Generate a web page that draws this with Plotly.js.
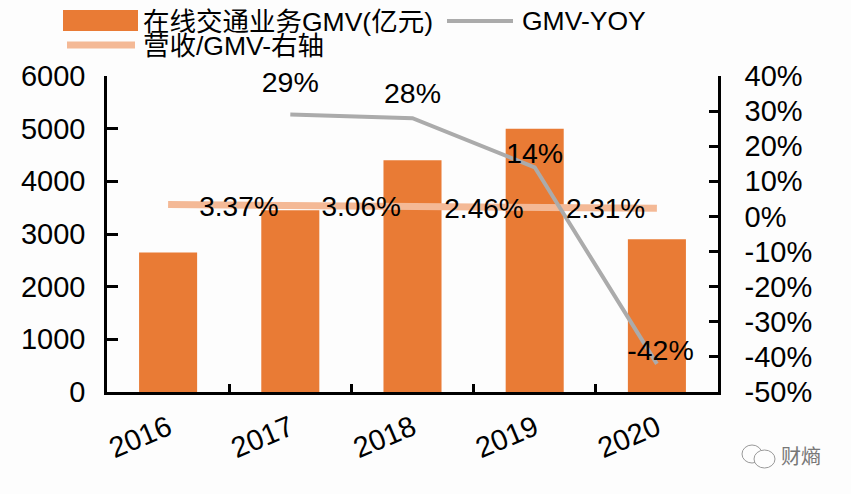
<!DOCTYPE html>
<html><head><meta charset="utf-8">
<script src="https://cdn.plot.ly/plotly-3.0.1.min.js"></script>
<style>html,body{margin:0;padding:0;background:#fdfdfd}</style></head>
<body><div id="c" style="width:851px;height:494px"></div>
<script>
const years = ['2016','2017','2018','2019','2020'];
const gmv = [2650,3450,4400,5000,2900];
const yoyYears = ['2017','2018','2019','2020'];
const yoy = [29,28,14,-42];
const yoyLabels = ['29%','28%','14%','-42%'];
const yoyLabelX = [1,2,3,4.03];
const yoyLabelY = [37.4,34.4,17.2,-38.9];
const takeLine = [3.37,3.06,2.46,2.31,2.31];
const takeLabels = ['3.37%','3.06%','2.46%','2.31%'];
const takeLabelX = [0.58,1.58,2.585,3.58];
const takeLabelY = [2.1,2.1,1.5,1.5];
const rightTicks = [40,30,20,10,0,-10,-20,-30,-40,-50];
const rightTickText = ['40%','30%','20%','10%','0%','-10%','-20%','-30%','-40%','-50%'];
const F = 'Liberation Sans, "Noto Sans CJK SC", sans-serif';
const px = v => v/851, py = v => 1-v/494;
const data = [
 {type:'bar',x:years,y:gmv,marker:{color:'#E97B35'},width:0.475,showlegend:false},
 {type:'scatter',mode:'lines',x:years,y:takeLine,yaxis:'y2',line:{color:'#F4B996',width:7},showlegend:false},
 {type:'scatter',mode:'lines',x:yoyYears,y:yoy,yaxis:'y2',line:{color:'#ABABAB',width:4},showlegend:false},
 {type:'scatter',mode:'text',x:yoyLabelX,y:yoyLabelY,text:yoyLabels,xaxis:'x2',yaxis:'y2',cliponaxis:false,textfont:{family:F,size:28.5,color:'#000'},showlegend:false},
 {type:'scatter',mode:'text',x:takeLabelX,y:takeLabelY,text:takeLabels,xaxis:'x2',yaxis:'y2',cliponaxis:false,textfont:{family:F,size:28,color:'#000'},showlegend:false}
];
const axisFont = {family:F,size:29,color:'#000'};
const layout = {
 width:851,height:494,margin:{l:0,r:0,t:0,b:0},paper_bgcolor:'#fdfdfd',plot_bgcolor:'#fdfdfd',
 xaxis:{domain:[px(107),px(718)],anchor:'y',type:'category',range:[-0.5,4.5],showline:true,linecolor:'#000',linewidth:2.5,ticks:'inside',tickson:'boundaries',ticklen:8,tickwidth:2.5,tickcolor:'#000',tickangle:-23,ticklabelstandoff:5,tickfont:axisFont,showgrid:false,zeroline:false},
 xaxis2:{domain:[px(107),px(718)],anchor:'y2',overlaying:'x',type:'linear',range:[-0.5,4.5],visible:false},
 yaxis:{domain:[py(392),py(76)],range:[0,6000],tick0:0,dtick:1000,showline:true,linecolor:'#000',linewidth:2.5,ticks:'inside',ticklen:11,tickwidth:2.5,tickcolor:'#000',ticklabelstandoff:13,tickfont:axisFont,showgrid:false,zeroline:false},
 yaxis2:{domain:[py(392),py(76)],overlaying:'y',side:'right',anchor:'x',range:[-50,40],tickmode:'array',tickvals:rightTicks,ticktext:rightTickText,showline:true,linecolor:'#000',linewidth:2.5,ticks:'inside',ticklen:9,tickwidth:2.5,tickcolor:'#000',ticklabelstandoff:18,tickfont:axisFont,showgrid:false,zeroline:false},
 shapes:[
  {type:'rect',xref:'paper',yref:'paper',x0:px(63),x1:px(138),y0:py(31),y1:py(10),fillcolor:'#E97B35',line:{width:0}},
  {type:'line',xref:'paper',yref:'paper',x0:px(67),x1:px(135),y0:py(45),y1:py(45),line:{color:'#F4B996',width:7}},
  {type:'line',xref:'paper',yref:'paper',x0:px(447),x1:px(513),y0:py(21),y1:py(21),line:{color:'#ABABAB',width:4}},
  {type:'circle',xref:'paper',yref:'paper',x0:px(742),x1:px(762),y0:py(463),y1:py(445),fillcolor:'#fdfdfd',line:{color:'#999',width:1}},
  {type:'circle',xref:'paper',yref:'paper',x0:px(754),x1:px(775),y0:py(468),y1:py(450),fillcolor:'#fdfdfd',line:{color:'#999',width:1}}
 ],
 annotations:[
  {xref:'paper',yref:'paper',x:px(143),y:py(22),xanchor:'left',xshift:-2,yanchor:'middle',showarrow:false,text:'在线交通业务GMV(亿元)',font:{family:F,size:26.5,color:'#000'}},
  {xref:'paper',yref:'paper',x:px(143),y:py(46),xanchor:'left',xshift:-2,yanchor:'middle',showarrow:false,text:'营收/GMV-右轴',font:{family:F,size:26.5,color:'#000'}},
  {xref:'paper',yref:'paper',x:px(522),y:py(21),xanchor:'left',xshift:-2,yanchor:'middle',showarrow:false,text:'GMV-YOY',font:{family:F,size:26.5,color:'#000'}},
  {xref:'paper',yref:'paper',x:px(781),y:py(457),xanchor:'left',xshift:-2,yanchor:'middle',showarrow:false,text:'财熵',font:{family:F,size:20,color:'#777'}}
 ]
};
Plotly.newPlot('c',data,layout,{displayModeBar:false});
</script></body></html>
